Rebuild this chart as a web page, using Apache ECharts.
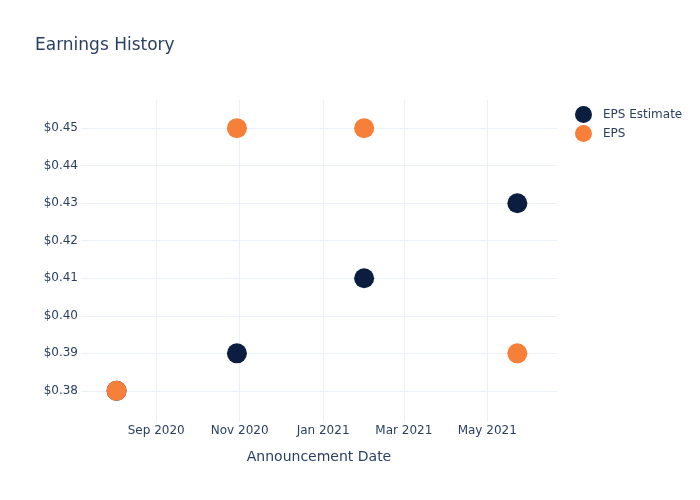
<!DOCTYPE html>
<html>
<head>
<meta charset="utf-8">
<script src="https://cdn.jsdelivr.net/npm/echarts@6/dist/echarts.min.js"></script>
<style>html,body{margin:0;padding:0;background:#fff}#c{width:700px;height:500px}</style>
</head>
<body>
<div id="c"></div>
<script>
const dates = ['2020-08-03', '2020-10-30', '2021-01-31', '2021-05-23'];
const epsEstimate = [0.38, 0.39, 0.41, 0.43];
const eps = [0.38, 0.45, 0.45, 0.39];
const xTicks = ['2020-09-01', '2020-11-01', '2021-01-01', '2021-03-01', '2021-05-01'];
const yTicks = [0.38, 0.39, 0.40, 0.41, 0.42, 0.43, 0.44, 0.45];
const monthNames = ['Jan','Feb','Mar','Apr','May','Jun','Jul','Aug','Sep','Oct','Nov','Dec'];

const ts = s => { const [y, m, d] = s.split('-').map(Number); return Date.UTC(y, m - 1, d); };
const txt = '#2a3f5f';
const font = '"DejaVu Sans", Verdana, sans-serif';

const chart = echarts.init(document.getElementById('c'), null, {renderer: 'canvas'});
chart.setOption({
  animation: false,
  backgroundColor: '#fff',
  title: {
    text: 'Earnings History', left: 30, top: 32,
    textStyle: {color: txt, fontSize: 17, fontWeight: 'normal', fontFamily: font}
  },
  legend: {
    orient: 'vertical', left: 570, top: 101, itemGap: 2,
    itemWidth: 17, itemHeight: 17, icon: 'circle',
    textStyle: {color: txt, fontSize: 12, fontFamily: font, padding: [0, 0, 0, 6]},
    data: ['EPS Estimate', 'EPS']
  },
  grid: {left: 81, right: 143, top: 100, bottom: 78},
  xAxis: {
    type: 'value',
    min: ts('2020-07-08'), max: ts('2021-06-21'),
    name: 'Announcement Date', nameLocation: 'middle', nameGap: 28,
    nameTextStyle: {color: txt, fontSize: 14, fontFamily: font},
    axisLine: {show: false},
    axisTick: {show: false, customValues: xTicks.map(ts)},
    axisLabel: {
      customValues: xTicks.map(ts), color: txt, fontSize: 12, fontFamily: font, margin: 3,
      formatter: v => { const d = new Date(v); return monthNames[d.getUTCMonth()] + ' ' + d.getUTCFullYear(); }
    },
    splitLine: {show: true, lineStyle: {color: '#ebf0f8', width: 1}}
  },
  yAxis: {
    type: 'value', min: 0.3717, max: 0.4575,
    axisLine: {show: false},
    axisTick: {show: false, customValues: yTicks},
    axisLabel: {
      customValues: yTicks, color: txt, fontSize: 12, fontFamily: font, margin: 3,
      formatter: v => '$' + v.toFixed(2)
    },
    splitLine: {show: true, lineStyle: {color: '#ebf0f8', width: 1}}
  },
  series: [
    {
      name: 'EPS Estimate', type: 'scatter', symbolSize: 20,
      itemStyle: {color: '#0b1e3f', opacity: 1},
      data: dates.map((d, i) => [ts(d), epsEstimate[i]])
    },
    {
      name: 'EPS', type: 'scatter', symbolSize: 20,
      itemStyle: {color: '#f6803a', opacity: 1},
      data: dates.map((d, i) => [ts(d), eps[i]])
    }
  ]
});
</script>
</body>
</html>
